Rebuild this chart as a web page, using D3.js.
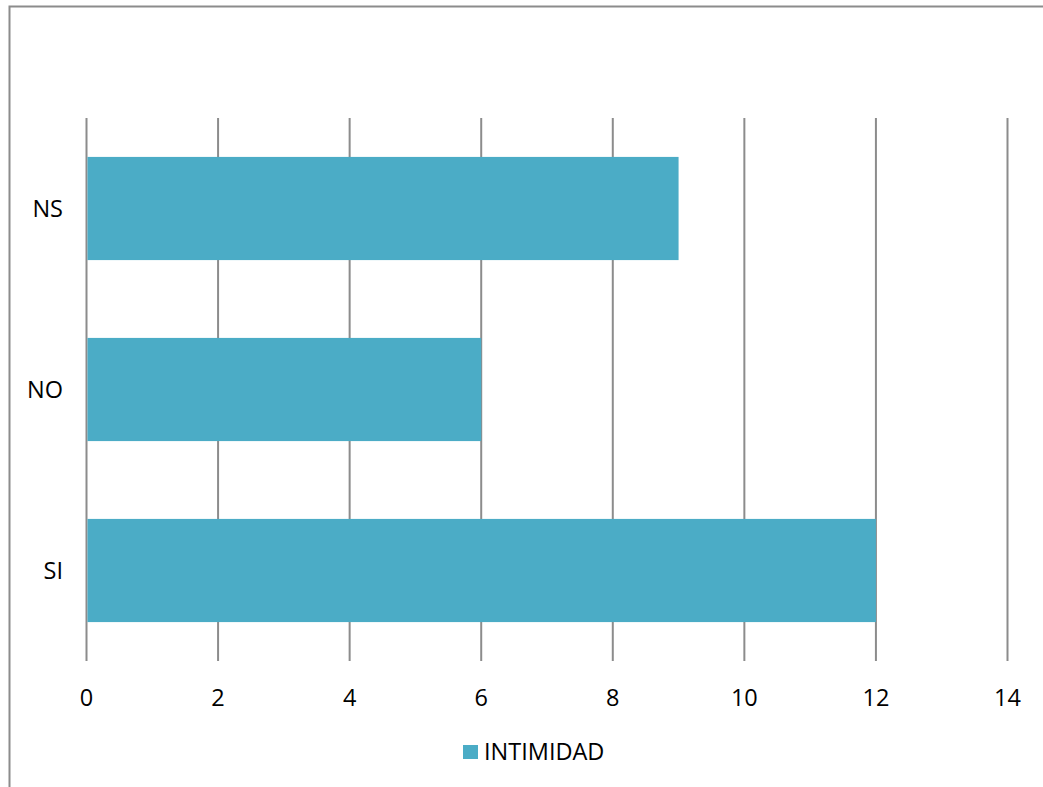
<!DOCTYPE html>
<html><head><meta charset="utf-8">
<script src="https://d3js.org/d3.v7.min.js"></script>
<style>
  body { margin: 0; background: #fff; }
  svg text { font-family: "Open Sans", sans-serif; fill: #000; }
</style>
</head>
<body>
<div class="chart"></div>
<script>
  // data
  var categories = ["NS", "NO", "SI"];
  var values = [9, 6, 12];
  var seriesName = "INTIMIDAD";
  var xTicks = [0, 2, 4, 6, 8, 10, 12, 14];

  var width = 1043, height = 787;
  var barColor = "#4bacc6";

  var svg = d3.select("div.chart").append("svg")
    .attr("width", width)
    .attr("height", height);

  // outer frame
  svg.append("rect")
    .attr("x", 9.5).attr("y", 6.5)
    .attr("width", 1060).attr("height", 800)
    .attr("fill", "none")
    .attr("stroke", "#8c8c8c")
    .attr("stroke-width", 2);

  var x = d3.scaleLinear().domain([0, 14]).range([86.5, 1007.5]);
  var y = d3.scaleBand().domain(categories).range([118, 661]).paddingInner(0.43).paddingOuter(0.215);

  // gridlines
  svg.append("g").selectAll("line")
    .data(xTicks)
    .enter().append("line")
    .attr("x1", function(d) { return x(d); })
    .attr("x2", function(d) { return x(d); })
    .attr("y1", 118).attr("y2", 661)
    .attr("stroke", "#8c8c8c")
    .attr("stroke-width", 2);

  // bars
  svg.append("g").selectAll("rect")
    .data(values)
    .enter().append("rect")
    .attr("x", x(0) + 1)
    .attr("y", function(d, i) { return y(categories[i]); })
    .attr("width", function(d) { return x(d) - x(0) - 1; })
    .attr("height", y.bandwidth())
    .attr("fill", barColor);

  // x tick labels
  svg.append("g").selectAll("text")
    .data(xTicks)
    .enter().append("text")
    .attr("x", function(d) { return x(d); })
    .attr("y", 706)
    .attr("text-anchor", "middle")
    .style("font-size", "23.5px")
    .text(function(d) { return d; });

  // category labels
  svg.append("g").selectAll("text")
    .data(categories)
    .enter().append("text")
    .attr("x", 63)
    .attr("y", function(d) { return y(d) + y.bandwidth() / 2 + 8; })
    .attr("text-anchor", "end")
    .style("font-size", "23.5px")
    .text(function(d) { return d; });

  // legend
  var legend = svg.append("g");
  legend.append("rect")
    .attr("x", 463).attr("y", 745)
    .attr("width", 15).attr("height", 14)
    .attr("fill", barColor);
  legend.append("text")
    .attr("x", 484).attr("y", 760)
    .style("font-size", "23.5px")
    .text(seriesName);
</script>
</body></html>
